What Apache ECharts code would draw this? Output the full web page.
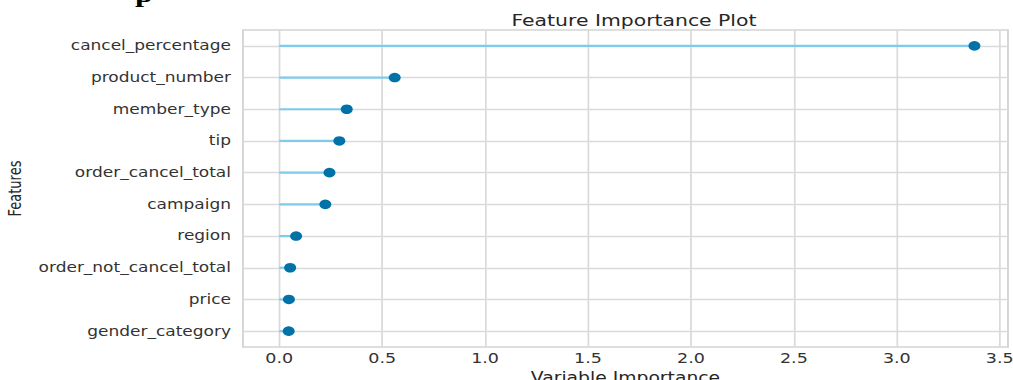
<!DOCTYPE html>
<html>
<head>
<meta charset="utf-8">
<script src="https://cdn.jsdelivr.net/npm/echarts@6/dist/echarts.min.js"></script>
<style>
html,body{margin:0;padding:0;background:#fff;overflow:hidden;width:1013px;height:380px;}
#c{width:810px;height:380px;transform:scaleX(1.2506);transform-origin:0 0;}
</style>
</head>
<body>
<div id="c"></div>
<script>
const features = ['cancel_percentage','product_number','member_type','tip','order_cancel_total','campaign','region','order_not_cancel_total','price','gender_category'];
const importance = [3.377, 0.561, 0.328, 0.292, 0.244, 0.224, 0.082, 0.053, 0.047, 0.046];
const xTicks = [0, 0.5, 1.0, 1.5, 2.0, 2.5, 3.0, 3.5];

const chart = echarts.init(document.getElementById('c'), null, {renderer: 'svg'});
const font = 'DejaVu Sans';
chart.setOption({
  animation: false,
  backgroundColor: '#ffffff',
  title: {
    text: 'Feature Importance Plot',
    left: 404, top: 7,
    textStyle: {fontFamily: font, fontSize: 16.3, fontWeight: 'normal', color: '#262626'}
  },
  graphic: [{
    type: 'text', left: 108, top: -20,
    style: {text: 'p', font: 'bold 26px "Liberation Serif"', fill: '#000'}
  }],
  grid: {left: 194.3, right: 4, top: 30, bottom: 33, show: true, borderColor: '#d4d4d4', borderWidth: 1.5, containLabel: false, outerBoundsMode: 'none'},
  xAxis: {
    type: 'value', min: -0.176, max: 3.54,
    name: 'Variable Importance', nameLocation: 'middle', nameGap: 23,
    nameTextStyle: {fontFamily: font, fontSize: 15, color: '#262626'},
    axisLine: {show: false}, axisTick: {show: false},
    axisLabel: {
      fontFamily: font, fontSize: 14, color: '#333333', margin: 4,
      customValues: xTicks, formatter: v => v.toFixed(1)
    },
    splitLine: {show: false}
  },
  yAxis: {
    type: 'category', data: features, inverse: true,
    name: 'Features', nameLocation: 'middle', nameGap: 172, nameRotate: 90,
    nameTextStyle: {fontFamily: 'DejaVu Sans Condensed', fontSize: 14.5, color: '#262626'},
    axisLine: {show: false}, axisTick: {show: false},
    axisLabel: {fontFamily: font, fontSize: 13.6, color: '#333333', margin: 9.6},
    splitLine: {show: false}
  },
  series: [
    {
      type: 'scatter', data: [], silent: true, z: 1,
      markLine: {
        silent: true, symbol: 'none', label: {show: false}, z: 1,
        lineStyle: {color: '#dadada', width: 1.4, type: 'solid'},
        data: features.map(f => ({yAxis: f})).concat(xTicks.map(t => ({xAxis: t})))
      }
    },
    {
      type: 'bar', data: importance, barWidth: 2.2, silent: true,
      itemStyle: {color: '#7fcbee'}, z: 5
    },
    {
      type: 'scatter', data: importance.map((v, i) => [v, features[i]]),
      symbol: 'circle', symbolSize: 9.6,
      itemStyle: {color: '#0072a8', opacity: 1}, z: 6
    }
  ]
});
</script>
</body>
</html>
